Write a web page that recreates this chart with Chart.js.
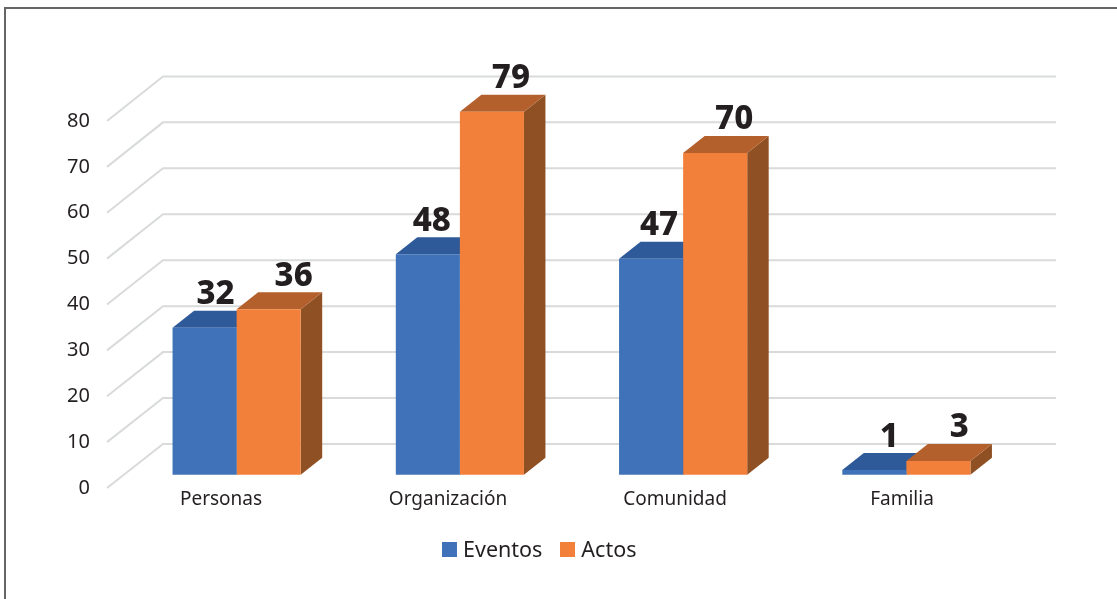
<!DOCTYPE html>
<html lang="es">
<head>
<meta charset="UTF-8">
<title>Eventos y actos</title>
<script src="https://cdn.jsdelivr.net/npm/chart.js"></script>
<style>
    html, body { margin: 0; background: #fff; overflow: hidden; }
    #frame { position: absolute; left: 4px; top: 7px; right: 0; height: 600px; border-left: 2px solid #666; border-top: 2px solid #666; box-sizing: border-box; }
    canvas { position: absolute; left: 0; top: 0; }
    #legend { position: absolute; top: 535px; left: 442px; display: flex; font: 21.5px "Noto Sans", sans-serif; color: #231f20; line-height: 28px; }
    #legend span { display: flex; align-items: center; }
    #legend i { width: 15px; height: 15px; margin-right: 6px; display: block; }
    #legend span + span { margin-left: 18px; }
</style>
</head>
<body>
<div id="frame"></div>
<canvas id="chart" width="1117" height="599"></canvas>
<div id="legend"></div>
<script>
const categories = ['Personas', 'Organización', 'Comunidad', 'Familia'];
const eventos = [32, 48, 47, 1];
const actos = [36, 79, 70, 3];
const tickValues = [0, 10, 20, 30, 40, 50, 60, 70, 80];

const seriesNames = ['Eventos', 'Actos'];
const frontColors = ['#3f72b9', '#f2803a'];
const topColors = ['#2f5a9a', '#b4602c'];
const sideColors = ['#2a4f87', '#8f5024'];

// how far the bars run back into the picture
const depthX = 21.5, depthY = 17;
// label nudges, the original labels don't sit at a fixed place over the bars
const labelShift = [[11, 4, 8, 15], [25, 19, 19, 21]];

function poly(ctx, color, pts) {
    ctx.fillStyle = color;
    ctx.beginPath();
    pts.forEach((p, i) => i ? ctx.lineTo(p[0], p[1]) : ctx.moveTo(p[0], p[1]));
    ctx.closePath();
    ctx.fill();
}

const walls = {
    id: 'walls',
    beforeDatasetsDraw(chart) {
        const { ctx, scales, chartArea } = chart;
        ctx.save();
        ctx.strokeStyle = '#d9dbdb';
        ctx.lineWidth = 2;
        tickValues.forEach(v => {
            const front = scales.yLabels.getPixelForValue(v);
            const back = scales.y.getPixelForValue(v) - 30.7;
            ctx.beginPath();
            ctx.moveTo(chartArea.left - 18, front);
            ctx.lineTo(chartArea.left + 38, back);
            ctx.lineTo(chartArea.right + 38, back);
            ctx.stroke();
        });
        ctx.restore();
    }
};

const faces = {
    id: 'faces',
    beforeDatasetsDraw(chart) {
        const { ctx } = chart;
        chart.data.datasets.forEach((ds, d) => {
            chart.getDatasetMeta(d).data.forEach(bar => {
                const l = bar.x - bar.width / 2, r = bar.x + bar.width / 2;
                const t = bar.y, b = bar.base;
                poly(ctx, sideColors[d], [[r, t], [r + depthX, t - depthY], [r + depthX, b - depthY], [r, b]]);
                poly(ctx, topColors[d], [[l, t], [l + depthX, t - depthY], [r + depthX, t - depthY], [r, t]]);
            });
        });
    }
};

const valueLabels = {
    id: 'valueLabels',
    afterDatasetsDraw(chart) {
        const { ctx } = chart;
        ctx.save();
        ctx.font = '800 33px "Noto Sans", sans-serif';
        ctx.fillStyle = '#231f20';
        ctx.textAlign = 'center';
        ctx.textBaseline = 'middle';
        chart.data.datasets.forEach((ds, d) => {
            chart.getDatasetMeta(d).data.forEach((bar, i) => {
                ctx.fillText(ds.data[i], bar.x + labelShift[d][i], bar.y - 33);
            });
        });
        ctx.restore();
    }
};

new Chart(document.getElementById('chart'), {
    type: 'bar',
    data: {
        labels: categories,
        datasets: [
            { label: seriesNames[0], data: eventos, backgroundColor: frontColors[0] },
            { label: seriesNames[1], data: actos, backgroundColor: frontColors[1] }
        ]
    },
    plugins: [walls, faces, valueLabels],
    options: {
        responsive: false,
        animation: false,
        layout: { padding: { top: 77, right: 99 } },
        categoryPercentage: 0.574,
        barPercentage: 1,
        plugins: { legend: { display: false }, tooltip: { enabled: false } },
        scales: {
            x: { display: false, offset: true },
            y: { display: false, min: -2.894, max: 86.55 },
            // the labels sit on the front edge of the floor, not on the bars, so they get their own axes
            yLabels: {
                axis: 'y',
                position: 'left',
                min: 0,
                max: 89.59,
                afterFit: s => { s.width = 125; },
                afterBuildTicks: s => { s.ticks = tickValues.map(value => ({ value })); },
                grid: { display: false, drawTicks: false },
                border: { display: false },
                ticks: { padding: 35, color: '#231f20', font: { family: '"Noto Sans", sans-serif', size: 20 } }
            },
            xLabels: {
                axis: 'x',
                type: 'linear',
                position: 'bottom',
                offset: false,
                min: -0.423,
                max: 3.511,
                afterFit: s => { s.height = 111; },
                afterBuildTicks: s => { s.ticks = categories.map((c, i) => ({ value: i })); },
                grid: { display: false, drawTicks: false },
                border: { display: false },
                ticks: {
                    padding: 0,
                    maxRotation: 0,
                    autoSkip: false,
                    color: '#231f20',
                    font: { family: '"Noto Sans", sans-serif', size: 19 },
                    callback: v => categories[v]
                }
            }
        }
    }
});

document.getElementById('legend').innerHTML = seriesNames
    .map((name, i) => `<span><i style="background:${frontColors[i]}"></i>${name}</span>`)
    .join('');
</script>
</body>
</html>
